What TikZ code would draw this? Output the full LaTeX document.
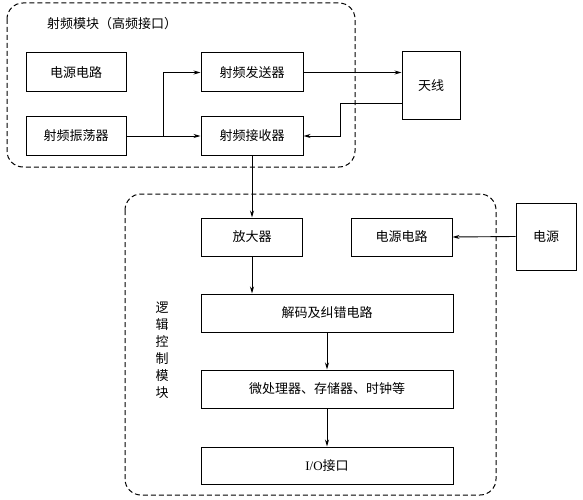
\documentclass[tikz,border=0pt]{standalone}
\usepackage{fontspec}
\setmainfont{Liberation Serif}
\newfontfamily\cjk{Noto Sans CJK SC}
\usetikzlibrary{arrows.meta}
\begin{document}
\begin{tikzpicture}[x=1pt,y=-1pt,
  box/.style={draw,line width=1pt,inner sep=0pt,font=\cjk\fontsize{13}{14}\selectfont},
  arr/.style={line width=0.9pt,-{Stealth[length=7pt,width=4pt]}},
  grp/.style={draw,dashed,dash pattern=on 5pt off 3pt,line width=1pt,rounded corners=16pt},
  lbl/.style={font=\cjk\fontsize{13}{17}\selectfont,inner sep=0pt}]
\useasboundingbox (0,0) rectangle (583,500);
% groups
\draw[grp] (7,3) rectangle (355,167);
\draw[grp] (125,194) rectangle (496,495);
\node[lbl] (t1) at (112,24) {射频模块（高频接口）};
\node[lbl,align=center] (t2) at (162,350) {逻\\辑\\控\\制\\模\\块};
% boxes
\node[box,minimum width=100,minimum height=39] (pwr1) at (76,72.5) {电源电路};
\node[box,minimum width=100,minimum height=38] (osc) at (76,136) {射频振荡器};
\node[box,minimum width=102,minimum height=39] (tx) at (252,72.5) {射频发送器};
\node[box,minimum width=102,minimum height=38] (rx) at (252,136) {射频接收器};
\node[box,minimum width=58,minimum height=68] (ant) at (431,86) {天线};
\node[box,minimum width=101,minimum height=38] (amp) at (252,237) {放大器};
\node[box,minimum width=101,minimum height=38] (pwr2) at (401.5,237) {电源电路};
\node[box,minimum width=60,minimum height=67] (src) at (546,236.5) {电源};
\node[box,minimum width=252,minimum height=38] (dec) at (327,313) {解码及纠错电路};
\node[box,minimum width=252,minimum height=38] (mcu) at (327,389) {微处理器、存储器、时钟等};
\node[box,minimum width=252,minimum height=37] (io) at (327,465.5) {{\rmfamily I/O}接口};
% connectors
\coordinate (br) at (163,136);
\coordinate (antin) at (402,103);
\coordinate (bend1) at (340,103);
\coordinate (bend2) at (340,136);
\draw[arr] (osc.east) -- (rx.west);
\draw[arr] (br) |- (tx.west);
\draw[arr] (tx.east) -- (tx.east -| ant.west);
\draw[arr] (antin) -- (bend1) -- (bend2) -- (rx.east);
\draw[arr] (rx.south) -- (amp.north);
\draw[arr] (src.west) -- (pwr2.east);
\draw[arr] (amp.south) -- (amp.south |- dec.north);
\draw[arr] (dec.south) -- (mcu.north);
\draw[arr] (mcu.south) -- (io.north);
\end{tikzpicture}
\end{document}
